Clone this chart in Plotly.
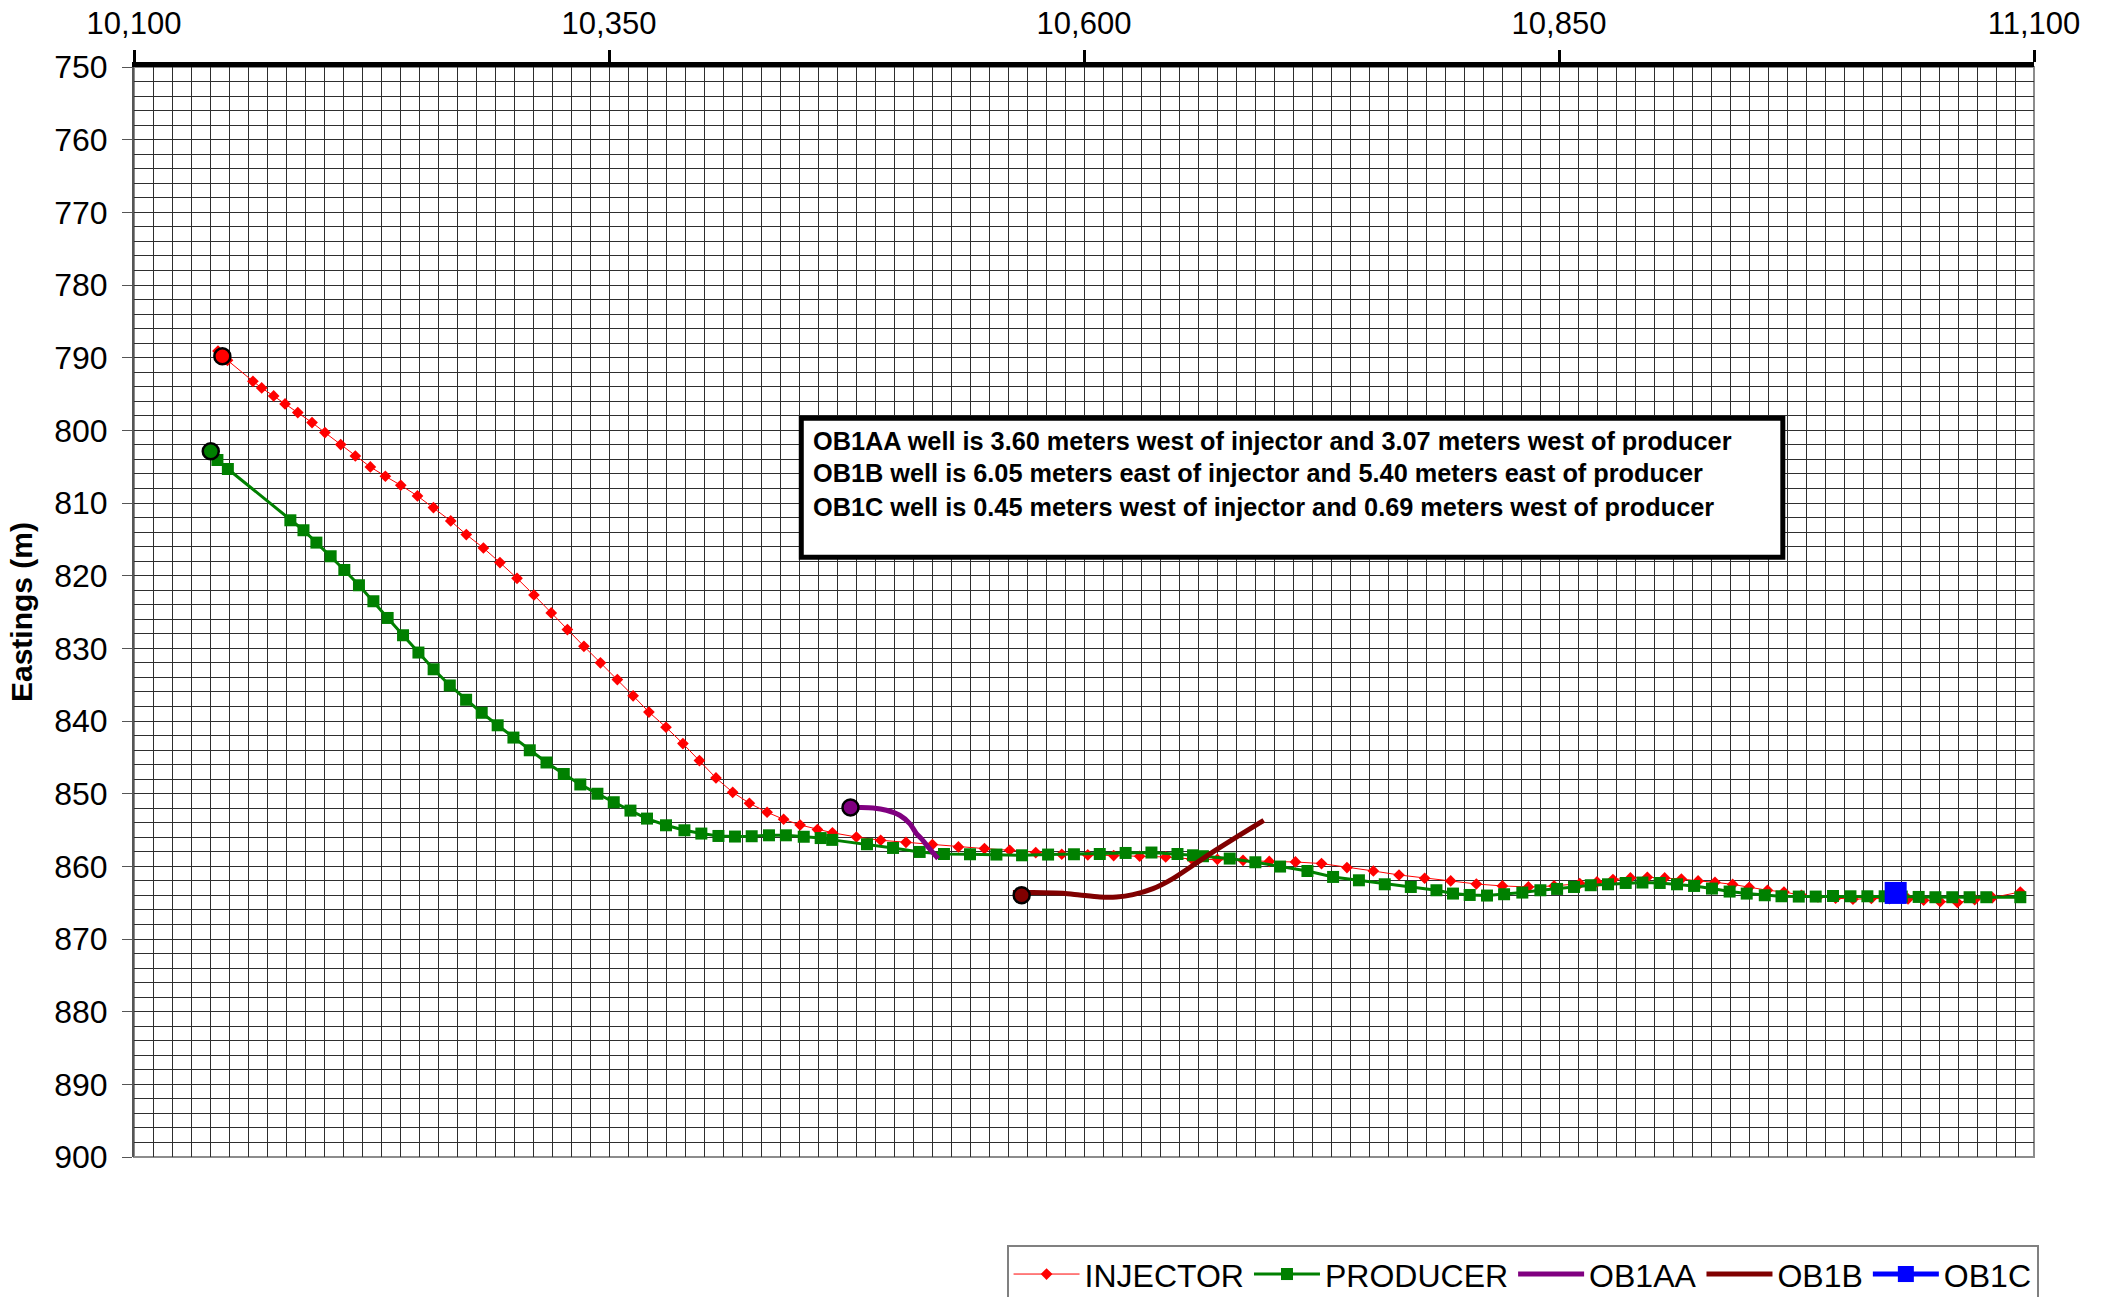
import plotly.graph_objects as go

# Plan-view well trajectories: northing (x) vs easting (y, reversed)
inj_x = [10144.2, 10149.2, 10162.6, 10167.2, 10173.5, 10179.5, 10186.2, 10193.7, 10200.5, 10208.8,
         10216.5, 10224.4, 10232.3, 10240.4, 10249.2, 10257.6, 10266.7, 10274.9, 10283.9, 10292.6,
         10301.6, 10310.5, 10319.6, 10328.1, 10336.8, 10345.5, 10354.4, 10362.7, 10371.0, 10380.0,
         10388.9, 10397.6, 10406.3, 10415.1, 10423.9, 10433.2, 10441.9, 10450.6, 10459.7, 10467.6,
         10480.2, 10493.0, 10506.3, 10520.2, 10533.9, 10547.6, 10560.9, 10574.6, 10588.3, 10602.0,
         10615.6, 10629.3, 10643.0, 10656.7, 10670.2, 10683.7, 10697.5, 10711.3, 10725.0, 10738.4,
         10752.3, 10765.8, 10779.3, 10793.0, 10806.5, 10820.2, 10833.9, 10847.4, 10860.9, 10870.0,
         10878.4, 10887.6, 10896.5, 10905.6, 10914.4, 10923.2, 10932.1, 10941.4, 10950.1, 10959.7,
         10968.4, 10977.6, 10986.3, 10995.6, 11004.7, 11014.4, 11024.0, 11033.7, 11041.9, 11050.6,
         11059.7, 11068.8, 11078.1, 11092.8]
inj_y = [789.08, 790.36, 793.25, 794.17, 795.27, 796.37, 797.56, 798.93, 800.31, 801.96,
         803.53, 805.04, 806.32, 807.56, 809.03, 810.63, 812.47, 814.35, 816.19, 818.20,
         820.36, 822.66, 825.13, 827.42, 829.72, 831.99, 834.30, 836.53, 838.77, 840.86,
         843.11, 845.45, 847.84, 849.81, 851.32, 852.56, 853.52, 854.31, 854.94, 855.38,
         855.96, 856.41, 856.69, 857.00, 857.33, 857.56, 857.79, 858.10, 858.34, 858.43,
         858.52, 858.61, 858.71, 858.99, 859.03, 859.17, 859.33, 859.40, 859.62, 860.17,
         860.64, 861.19, 861.64, 862.01, 862.43, 862.70, 862.84, 862.70, 862.37, 862.15,
         861.82, 861.60, 861.50, 861.60, 861.74, 862.01, 862.19, 862.49, 862.88, 863.29,
         863.53, 863.98, 864.21, 864.39, 864.53, 864.43, 864.46, 864.49, 864.67, 864.87,
         864.98, 864.57, 864.30, 863.53]

prod_x = [10140.4, 10143.9, 10149.4, 10182.3, 10189.2, 10196.0, 10203.5, 10210.7, 10218.4, 10226.0,
          10233.5, 10241.6, 10249.7, 10257.7, 10266.2, 10274.8, 10283.0, 10291.4, 10299.7, 10308.3,
          10317.1, 10326.2, 10334.9, 10343.9, 10352.5, 10361.3, 10370.0, 10380.0, 10389.7, 10398.6,
          10407.6, 10416.3, 10425.1, 10434.2, 10443.1, 10452.5, 10461.4, 10467.5, 10485.8, 10499.5,
          10513.5, 10526.3, 10540.0, 10553.9, 10567.4, 10581.1, 10594.7, 10608.3, 10621.9, 10635.5,
          10649.2, 10657.4, 10662.6, 10676.7, 10690.2, 10703.2, 10717.6, 10731.1, 10744.7, 10758.3,
          10772.0, 10785.5, 10794.2, 10803.0, 10812.1, 10821.1, 10830.7, 10840.2, 10849.0, 10857.9,
          10866.7, 10875.8, 10885.1, 10893.9, 10903.0, 10912.1, 10921.1, 10930.5, 10939.8, 10948.8,
          10958.3, 10967.1, 10976.2, 10985.1, 10994.2, 11003.4, 11012.3, 11021.4, 11030.4, 11039.3,
          11048.1, 11057.0, 11066.1, 11074.9, 11092.8]
prod_y = [802.88, 804.08, 805.32, 812.38, 813.75, 815.45, 817.33, 819.22, 821.32, 823.52,
          825.82, 828.20, 830.58, 832.88, 835.11, 837.08, 838.87, 840.59, 842.28, 844.03,
          845.71, 847.29, 848.73, 850.01, 851.18, 852.33, 853.43, 854.35, 855.04, 855.49,
          855.82, 855.90, 855.86, 855.73, 855.73, 855.93, 856.11, 856.36, 856.96, 857.47,
          858.02, 858.30, 858.34, 858.38, 858.48, 858.38, 858.34, 858.30, 858.16, 858.10,
          858.30, 858.48, 858.61, 858.93, 859.44, 860.03, 860.64, 861.46, 861.92, 862.47,
          862.84, 863.29, 863.75, 863.94, 864.02, 863.84, 863.61, 863.29, 863.11, 862.84,
          862.60, 862.47, 862.29, 862.23, 862.29, 862.47, 862.70, 863.06, 863.47, 863.75,
          863.98, 864.12, 864.16, 864.16, 864.08, 864.12, 864.12, 864.12, 864.16, 864.21,
          864.25, 864.25, 864.25, 864.25, 864.25]

ob1aa_x = [10477.1, 10482.0, 10489.0, 10496.0, 10503.0, 10508.3, 10511.8, 10514.4, 10517.9, 10523.2]
ob1aa_y = [851.91, 851.91, 851.97, 852.28, 852.97, 854.12, 855.49, 856.18, 857.33, 858.93]

ob1b_x = [10562.6, 10573.2, 10589.0, 10597.7, 10608.3, 10617.1, 10625.8, 10636.3, 10646.8,
          10657.4, 10667.9, 10681.9, 10694.6]
ob1b_y = [863.61, 863.61, 863.71, 863.94, 864.21, 864.21, 863.89, 863.06, 861.68,
          859.85, 858.02, 855.72, 853.66]

ob1c_x = [11027.2]
ob1c_y = [863.66]

# Collar (top-of-well) markers
collar_x = [10146.5, 10140.4, 10477.1, 10567.2]
collar_y = [789.81, 802.88, 851.91, 863.98]
collar_colors = ["#FF0000", "#008000", "#800080", "#800000"]

x_tick_step = 250
y_tick_step = 10

info_lines = [
    "OB1AA well is 3.60 meters west of injector and 3.07 meters west of producer",
    "OB1B well is 6.05 meters east of injector and 5.40 meters east of producer",
    "OB1C well is 0.45 meters west of injector and 0.69 meters west of producer",
]

FONT = "Liberation Sans, Arial, sans-serif"
GRID = "#2e2e2e"

fig = go.Figure()

fig.add_trace(go.Scatter(
    x=inj_x, y=inj_y, name="INJECTOR", mode="lines+markers",
    line=dict(color="#FF0000", width=1),
    marker=dict(symbol="diamond", size=9, color="#FF0000"),
))
fig.add_trace(go.Scatter(
    x=prod_x, y=prod_y, name="PRODUCER", mode="lines+markers",
    line=dict(color="#008000", width=3),
    marker=dict(symbol="square", size=12, color="#008000"),
))
fig.add_trace(go.Scatter(
    x=ob1aa_x, y=ob1aa_y, name="OB1AA", mode="lines",
    line=dict(color="#800080", width=5, shape="spline", smoothing=0.8),
))
fig.add_trace(go.Scatter(
    x=ob1b_x, y=ob1b_y, name="OB1B", mode="lines",
    line=dict(color="#800000", width=5, shape="spline", smoothing=0.8),
))
fig.add_trace(go.Scatter(
    x=ob1c_x, y=ob1c_y, name="OB1C", mode="lines+markers",
    line=dict(color="#0000FF", width=5),
    marker=dict(symbol="square", size=22, color="#0000FF"),
))
fig.add_trace(go.Scatter(
    x=collar_x, y=collar_y, mode="markers", showlegend=False,
    marker=dict(symbol="circle", size=16, color=collar_colors,
                line=dict(color="#000000", width=2.5)),
))

fig.update_layout(
    width=2109, height=1297,
    margin=dict(l=134, r=75, t=67, b=140, autoexpand=False),
    paper_bgcolor="white", plot_bgcolor="white",
    font=dict(family=FONT, color="black"),
    showlegend=True,
    legend=dict(
        orientation="h", x=1.0024, xanchor="right", y=-0.0805, yanchor="top",
        bgcolor="white", bordercolor="#808080", borderwidth=2,
        font=dict(family=FONT, size=32, color="black"),
        itemwidth=66, traceorder="normal",
    ),
    xaxis=dict(
        range=[10100, 11100], side="top", tickmode="linear", tick0=10100, dtick=x_tick_step,
        tickformat=",d", ticks="outside", ticklen=12, tickwidth=3, tickcolor="black",
        showline=True, linewidth=5, linecolor="black", zeroline=False,
        showgrid=True, gridcolor=GRID, gridwidth=1,
        minor=dict(dtick=10, showgrid=True, gridcolor=GRID, gridwidth=1, ticks=""),
        tickfont=dict(family=FONT, size=31, color="black"),
        ticklabelstandoff=4, automargin=False,
    ),
    yaxis=dict(
        range=[900, 750], tickmode="linear", tick0=750, dtick=y_tick_step,
        ticks="outside", ticklen=10, tickwidth=1, tickcolor="#555555",
        showline=True, linewidth=2, linecolor="#555555", zeroline=False,
        showgrid=True, gridcolor=GRID, gridwidth=1,
        minor=dict(dtick=2, showgrid=True, gridcolor=GRID, gridwidth=1, ticks=""),
        tickfont=dict(family=FONT, size=32, color="black"),
        ticklabelstandoff=8,
        title=dict(text="<b>Eastings (m)</b>", font=dict(family=FONT, size=30, color="black"),
                   standoff=13),
        automargin=False,
    ),
)

# Plot-area frame on the right and bottom edges
fig.add_shape(type="rect", xref="paper", yref="paper", x0=0, x1=1, y0=0, y1=1,
              line=dict(color="#8c8c8c", width=2), fillcolor="rgba(0,0,0,0)", layer="below")

# Offset summary box
fig.add_shape(type="rect", xref="paper", yref="paper", x0=0.3512, x1=0.8678, y0=0.5502, y1=0.6777,
              line=dict(color="black", width=5), fillcolor="white", layer="above")
for line_text, ypos in zip(info_lines, [0.6566, 0.6273, 0.5961]):
    fig.add_annotation(xref="paper", yref="paper", x=0.3561, y=ypos, xanchor="left", yanchor="middle",
                       text=f"<b>{line_text}</b>", showarrow=False,
                       font=dict(family=FONT, size=25.3, color="black"))

fig.write_html("out.html")
